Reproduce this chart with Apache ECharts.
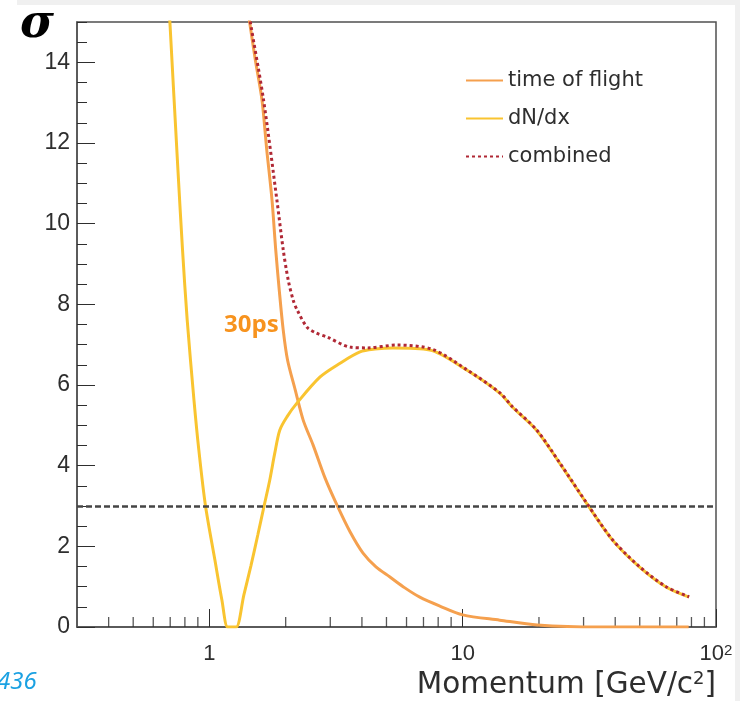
<!DOCTYPE html>
<html lang="en">
<head>
    <meta charset="UTF-8">
    <title>Separation power vs momentum</title>
    <script src="https://cdn.jsdelivr.net/npm/echarts/dist/echarts.min.js"></script>
    <style>
        body { margin: 0; background: #fff; }
        #main { width: 747px; height: 701px; }
    </style>
</head>
<body>
    <div id="main"></div>
    <script>
        // curve readings: momentum (GeV/c) and separation in sigma
        const tofP     = [1.40, 1.441, 1.518, 1.612, 1.684, 1.766, 1.827, 1.886, 1.956, 2.034, 2.181, 2.345, 2.567, 2.862, 3.19, 3.59, 4.04, 4.545, 5.16, 5.91, 6.77, 8.12, 10.0, 14.0, 19.7, 34.6, 78];
        const tofSigma = [15.6, 15.0, 14.06, 13.07, 11.83, 10.59, 9.35, 8.36, 7.36, 6.62, 5.88, 5.13, 4.51, 3.69, 3.02, 2.36, 1.83, 1.49, 1.24, 0.97, 0.74, 0.52, 0.30, 0.17, 0.05, 0.0, 0.0];

        const dedxP     = [0.684, 0.698, 0.751, 0.783, 0.817, 0.869, 0.908, 0.964, 1.051, 1.12, 1.18, 1.23, 1.277, 1.367, 1.457, 1.552, 1.646, 1.73, 1.811, 1.895, 2.023, 2.215, 2.735, 3.28, 3.93, 4.5, 5.30, 7.41, 10.37, 13.99, 15.73, 19.55, 24.1, 30.8, 38.96, 49.8, 63.5, 78.3];
        const dedxSigma = [16.0, 15.0, 11.33, 9.35, 7.61, 5.62, 4.39, 3.02, 1.66, 0.67, 0.0, 0.0, 0.0, 0.79, 1.51, 2.28, 3.02, 3.64, 4.31, 4.88, 5.21, 5.55, 6.2, 6.54, 6.82, 6.89, 6.92, 6.87, 6.37, 5.80, 5.45, 4.88, 4.07, 3.07, 2.16, 1.49, 0.99, 0.74];

        const combP     = [1.40, 1.45, 1.636, 1.847, 1.956, 2.047, 2.142, 2.22, 2.43, 2.637, 2.915, 3.59, 4.19, 5.50, 7.62, 10.37, 13.99, 15.73, 19.55, 24.1, 30.8, 38.96, 49.8, 63.5, 78.3];
        const combSigma = [15.6, 15.0, 13.06, 10.58, 9.35, 8.60, 8.10, 7.86, 7.43, 7.29, 7.19, 6.94, 6.92, 6.99, 6.88, 6.38, 5.81, 5.46, 4.89, 4.08, 3.08, 2.17, 1.50, 1.00, 0.75];

        const threshold = 3;
        const xMinorTicks = [0.4, 0.5, 0.6, 0.7, 0.8, 0.9, 2, 3, 4, 5, 6, 7, 8, 9, 20, 30, 40, 50, 60, 70, 80, 90];
        const seriesNames = ['time of flight', 'dN/dx', 'combined'];

        const zip = (xs, ys) => xs.map((x, i) => [x, ys[i]]);

        var myChart = echarts.init(document.getElementById('main'));
        var axisColor = '#505050';
        var textColor = '#2e2e2e';

        var option = {
            animation: false,
            backgroundColor: '#fff',
            grid: {
                left: 77, right: 31, top: 22, bottom: 74,
                show: true, borderColor: axisColor, borderWidth: 1.5
            },
            legend: {
                data: seriesNames,
                orient: 'vertical',
                left: 465, top: 70,
                padding: 0,
                itemWidth: 37, itemHeight: 14, itemGap: 17,
                itemStyle: { opacity: 0 },
                textStyle: { fontSize: 21, fontFamily: 'DejaVu Sans', color: textColor }
            },
            xAxis: {
                type: 'log',
                logBase: 10,
                min: 0.3, max: 100,
                axisLine: { lineStyle: { color: axisColor, width: 1.5 } },
                axisTick: { inside: true, length: 18, lineStyle: { color: textColor } },
                splitLine: { show: false },
                axisLabel: {
                    showMinLabel: false,
                    margin: 16,
                    fontSize: 22, fontFamily: 'Liberation Sans', color: textColor,
                    formatter: function (v) {
                        var r = Math.round(v);
                        if (r === 100) return '{b|10}{s|2}';
                        return '{b|' + r + '}';
                    },
                    rich: {
                        b: { fontSize: 22, fontFamily: 'Liberation Sans', color: textColor },
                        s: { fontSize: 15, fontFamily: 'Liberation Sans', color: textColor, verticalAlign: 'top' }
                    }
                }
            },
            yAxis: [
                {
                    // minor ticks every 0.5
                    type: 'value', min: 0, max: 15, interval: 0.5, position: 'left',
                    axisLine: { show: true, lineStyle: { color: axisColor, width: 1.5 } },
                    axisTick: { inside: true, length: 10, lineStyle: { color: textColor } },
                    axisLabel: { show: false },
                    splitLine: { show: false }
                },
                {
                    type: 'value', min: 0, max: 15, interval: 2, position: 'left',
                    axisLine: { show: false },
                    axisTick: { inside: true, length: 18, lineStyle: { color: textColor } },
                    axisLabel: {
                        showMaxLabel: false,
                        margin: 7,
                        fontSize: 23, fontFamily: 'Liberation Sans', color: textColor
                    },
                    splitLine: { show: false }
                }
            ],
            series: [
                {
                    name: seriesNames[0],
                    type: 'line',
                    data: zip(tofP, tofSigma),
                    showSymbol: false, symbol: 'none',
                    smooth: 0.3,
                    lineStyle: { color: '#f5a04e', width: 3 },
                    itemStyle: { color: '#f5a04e' },
                    markLine: {
                        silent: true, symbol: 'none',
                        label: { show: false },
                        lineStyle: { color: '#454545', type: [6, 3], width: 2.5 },
                        data: [{ yAxis: threshold }]
                    }
                },
                {
                    name: seriesNames[1],
                    type: 'line',
                    data: zip(dedxP, dedxSigma),
                    showSymbol: false, symbol: 'none',
                    smooth: 0.3,
                    lineStyle: { color: '#f9c430', width: 3 },
                    itemStyle: { color: '#f9c430' }
                },
                {
                    name: seriesNames[2],
                    type: 'line',
                    data: zip(combP, combSigma),
                    showSymbol: false, symbol: 'none',
                    smooth: 0.3,
                    lineStyle: { color: '#b02835', width: 3, type: [3, 3] },
                    itemStyle: { color: '#b02835' }
                },
                {
                    // log-axis minor ticks
                    name: 'minor',
                    type: 'scatter',
                    silent: true,
                    clip: false,
                    data: xMinorTicks.map(v => [v, 0]),
                    symbol: 'rect',
                    symbolSize: [1.3, 10],
                    symbolOffset: [0, -5],
                    itemStyle: { color: textColor }
                }
            ],
            graphic: [
                { type: 'rect', shape: { x: 17, y: 0, width: 723, height: 5 }, style: { fill: '#f0f0f0' }, silent: true },
                { type: 'rect', shape: { x: 735, y: 0, width: 5, height: 701 }, style: { fill: '#f0f0f0' }, silent: true },
                { type: 'text', left: 20, top: 2, style: { text: 'σ', font: 'italic bold 46px "DejaVu Serif"', fill: '#000' } },
                { type: 'text', left: 224, top: 313, style: { text: '30ps', font: 'bold 24px "Open Sans"', fill: '#f7931e' } },
                { type: 'text', left: -3, top: 670, style: { text: '436', font: 'italic 24px "Noto Sans"', fill: '#1ba1e2' } },
                {
                    type: 'text', right: 31, top: 670,
                    style: {
                        text: '{m|Momentum [GeV/c}{s|2}{m|]}',
                        rich: {
                            m: { fontSize: 29.5, fontFamily: 'DejaVu Sans', fill: textColor },
                            s: { fontSize: 18, fontFamily: 'DejaVu Sans', fill: textColor, verticalAlign: 'top' }
                        }
                    }
                }
            ]
        };

        myChart.setOption(option);
    </script>
</body>
</html>
